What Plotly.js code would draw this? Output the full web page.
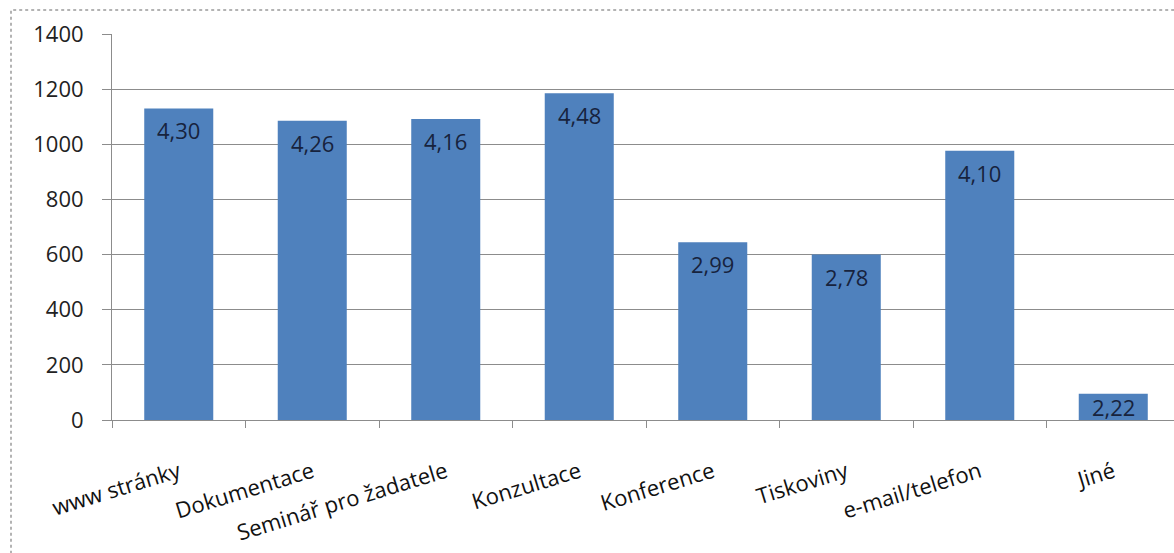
<!DOCTYPE html>
<html>
<head>
<meta charset="utf-8">
<script src="https://cdn.plot.ly/plotly-3.0.1.min.js"></script>
<style>html,body{margin:0;padding:0;background:#fff;}#chart{width:1174px;height:553px;}</style>
</head>
<body>
<div id="chart"></div>
<script>
var categories = ["www stránky", "Dokumentace", "Seminář pro žadatele", "Konzultace", "Konference", "Tiskoviny", "e-mail/telefon", "Jiné"];
var counts = [1130, 1085, 1092, 1185, 645, 600, 977, 95];
var ratings = ["4,30", "4,26", "4,16", "4,48", "2,99", "2,78", "4,10", "2,22"];
var yTicks = [0, 200, 400, 600, 800, 1000, 1200, 1400];

var FONT = "Open Sans, sans-serif";
var plotHeight = 553 - 34 - 133;
var yMax = 1400;

var trace = {
  type: "bar",
  x: categories,
  y: counts,
  marker: { color: "#4f81bd" },
  hoverinfo: "none"
};

var annotations = categories.map(function (c, i) {
  var barPx = counts[i] / yMax * plotHeight;
  return {
    x: c, y: counts[i], xref: "x", yref: "y",
    text: ratings[i], showarrow: false,
    yanchor: "middle", yshift: -Math.min(22, barPx / 2),
    font: { family: FONT, size: 22, color: "#17233d" }
  };
});

var layout = {
  width: 1174, height: 553,
  margin: { l: 112, r: 0, t: 34, b: 133 },
  paper_bgcolor: "#fff", plot_bgcolor: "#fff",
  showlegend: false,
  bargap: 0.483,
  font: { family: FONT, size: 22, color: "#111" },
  xaxis: {
    type: "category",
    range: [-0.5, 7.455],
    tickangle: -17,
    tickson: "boundaries",
    ticks: "outside", ticklen: 7, tickcolor: "#8c8c8c", tickwidth: 1,
    showline: true, linecolor: "#8c8c8c", linewidth: 1,
    showgrid: false, zeroline: false,
    ticklabelstandoff: 30,
    tickfont: { family: FONT, size: 22, color: "#111" },
    fixedrange: true
  },
  yaxis: {
    range: [0, yMax],
    tickmode: "array", tickvals: yTicks, ticktext: yTicks.map(String),
    ticks: "outside", ticklen: 9, tickcolor: "#8c8c8c", tickwidth: 1,
    showline: true, linecolor: "#8c8c8c", linewidth: 1,
    showgrid: true, gridcolor: "#8c8c8c", gridwidth: 1,
    zeroline: false,
    ticklabelstandoff: 14,
    tickfont: { family: FONT, size: 22, color: "#222" },
    fixedrange: true
  },
  annotations: annotations,
  shapes: [{
    type: "rect", xref: "paper", yref: "paper",
    x0: -0.0951, x1: 1.05, y0: -0.5, y1: 1.0622,
    line: { color: "#9a9a9a", width: 1.5, dash: "dot" }
  }]
};

Plotly.newPlot("chart", [trace], layout, { staticPlot: true, displayModeBar: false });
</script>
</body>
</html>
